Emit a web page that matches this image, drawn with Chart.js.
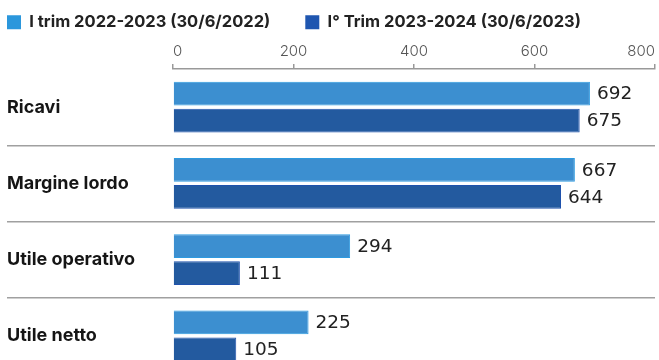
<!DOCTYPE html>
<html>
<head>
<meta charset="utf-8">
<script src="https://cdn.jsdelivr.net/npm/chart.js@4/dist/chart.umd.min.js"></script>
<style>
  html, body { margin: 0; padding: 0; background: #fff; overflow: hidden; }
  canvas { display: block; }
</style>
</head>
<body>
<canvas id="myChart" width="659" height="360"></canvas>
<script>
const categories = ['Ricavi', 'Margine lordo', 'Utile operativo', 'Utile netto'];
const seriesNames = ['I trim 2022-2023 (30/6/2022)', 'I° Trim 2023-2024 (30/6/2023)'];
const trim2022 = [692, 667, 294, 225];
const trim2023 = [675, 644, 111, 105];
const xTicks = [0, 200, 400, 600, 800];

const lightBlue = '#3c8fd0';
const darkBlue = '#235a9f';
const legendColors = ['#2b97dc', '#1f56b0'];

const LEGEND_GAP = 35;
const AREA_BOTTOM = 374; // the last group runs past the bottom edge, as in the original

// writes the value at the end of each bar
const valueLabels = {
    id: 'valueLabels',
    afterDatasetsDraw(chart) {
        const ctx = chart.ctx;
        ctx.save();
        ctx.font = '400 18.5px "DejaVu Sans"';
        ctx.fillStyle = '#222';
        ctx.textBaseline = 'middle';
        ctx.textAlign = 'left';
        chart.data.datasets.forEach((ds, i) => {
            chart.getDatasetMeta(i).data.forEach((bar, j) => {
                ctx.fillText(ds.data[j], bar.x + 7, bar.y + 1);
            });
        });
        ctx.restore();
    }
};

const layoutTweaks = {
    id: 'layoutTweaks',
    afterLayout(chart) {
        // legend padding is used as the gap between items, pull it back to the corner
        chart.legend.left -= LEGEND_GAP;
        chart.legend.top -= 21;
        // stretch the category axis below the canvas
        const y = chart.scales.y;
        const extra = AREA_BOTTOM - y.bottom;
        y.bottom += extra;
        y.height += extra;
        y.configure();
        chart.chartArea.bottom += extra;
        chart.chartArea.height += extra;
    }
};

new Chart(document.getElementById('myChart'), {
    type: 'bar',
    data: {
        labels: categories,
        datasets: [
            { label: seriesNames[0], data: trim2022, backgroundColor: lightBlue, borderColor: '#2d9ae0', borderWidth: 1 },
            { label: seriesNames[1], data: trim2023, backgroundColor: darkBlue, borderColor: '#1f52ad', borderWidth: 1 }
        ]
    },
    plugins: [valueLabels, layoutTweaks],
    options: {
        indexAxis: 'y',
        responsive: false,
        animation: false,
        categoryPercentage: 0.71,
        barPercentage: 0.88,
        layout: { padding: { left: 7, right: 2, top: 0, bottom: 0 } },
        plugins: {
            legend: {
                position: 'top',
                align: 'start',
                maxHeight: 30,
                labels: {
                    font: { family: 'Inter', weight: '700', size: 16.5 },
                    color: '#222',
                    boxWidth: 14,
                    boxHeight: 14,
                    padding: LEGEND_GAP,
                    generateLabels(chart) {
                        const items = Chart.defaults.plugins.legend.labels.generateLabels(chart);
                        items.forEach((it, i) => {
                            it.fillStyle = legendColors[i];
                            it.strokeStyle = legendColors[i];
                            it.lineWidth = 0;
                        });
                        return items;
                    }
                }
            },
            tooltip: { enabled: false }
        },
        scales: {
            x: {
                position: 'top',
                min: 0,
                max: 800,
                afterBuildTicks(scale) {
                    scale.ticks = xTicks.map(v => ({ value: v }));
                },
                afterFit(scale) { scale.height = 39; },
                ticks: {
                    align: 'inner',
                    font: { family: 'Inter', size: 15, weight: '300' },
                    color: '#555',
                    padding: 4
                },
                grid: { drawOnChartArea: false, tickLength: 5, color: '#999', lineWidth: 1.5 },
                border: { color: '#999', width: 1.5 }
            },
            y: {
                afterFit(scale) { scale.width = 166; },
                ticks: {
                    crossAlign: 'far',
                    font: { family: 'Inter', size: 18, weight: '700' },
                    color: '#151515'
                },
                grid: {
                    offset: true,
                    tickLength: 166,
                    color: (c) => c.index === 0 ? 'rgba(0,0,0,0)' : '#a0a0a0',
                    lineWidth: 1.5
                },
                border: { display: false }
            }
        }
    }
});
</script>
</body>
</html>
